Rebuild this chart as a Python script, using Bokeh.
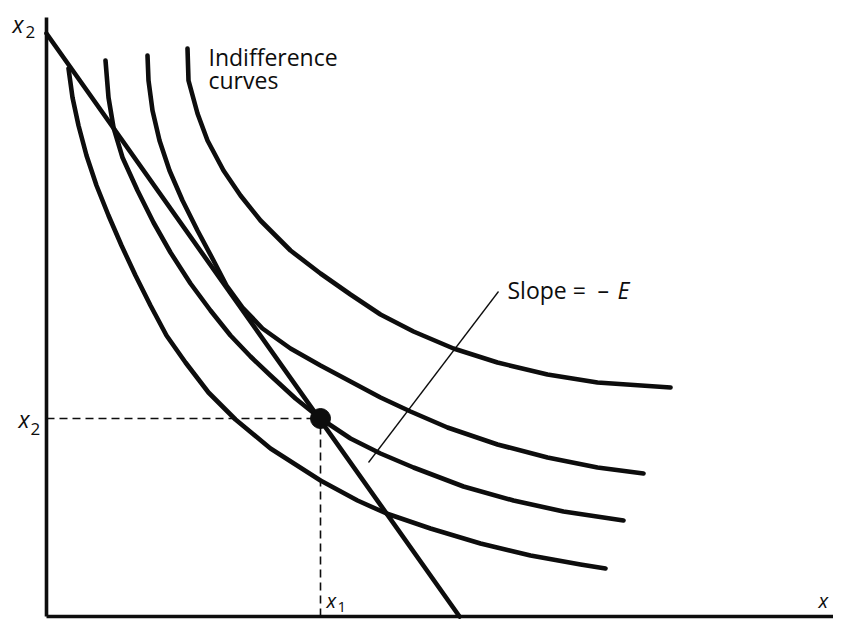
from bokeh.plotting import figure
from bokeh.models import Range1d
from bokeh.core.properties import value
from bokeh.embed import file_html
from bokeh.resources import INLINE

# ---- data (quantity units, origin at the axes' corner) ----
curve1_x = [22, 26, 32, 40, 50, 62, 75, 89, 104, 120, 139, 162, 189, 224, 274, 311, 340, 384, 434, 484, 534, 559]
curve1_y = [548, 519, 491, 461, 431, 401, 371, 341, 311, 281, 254, 224, 197, 168, 136, 116, 103, 88, 73, 61, 52, 48]

curve2_x = [59, 62, 67, 76, 91, 107, 124, 144, 164, 184, 204, 224, 249, 274, 304, 334, 367, 417, 467, 517, 577]
curve2_y = [556, 519, 489, 459, 426, 394, 364, 333, 306, 281, 260, 241, 218, 198, 178, 163, 149, 130, 116, 105, 96]

curve3_x = [101, 102, 106, 113, 123, 136, 151, 167, 180, 196, 216, 244, 274, 304, 334, 364, 401, 451, 501, 551, 597]
curve3_y = [561, 536, 506, 476, 446, 416, 386, 356, 331, 309, 288, 268, 251, 235, 219, 205, 189, 172, 159, 149, 143]

curve4_x = [141, 142, 151, 161, 177, 194, 214, 244, 274, 304, 334, 367, 407, 451, 501, 551, 624]
curve4_y = [568, 536, 503, 476, 446, 421, 396, 366, 343, 322, 302, 285, 268, 254, 242, 234, 229]

budget_x = [0, 413]
budget_y = [583, 0]

x1_star = 274
x2_star = 198

axis_x_end = 803
axis_y_end = 599

pointer_x = [322, 452]
pointer_y = [154, 325]

label_curves = ["Indifference", "curves"]

# ---- figure ----
p = figure(width=833, height=628,
           x_range=Range1d(-46, 787), y_range=Range1d(-12, 616),
           output_backend="svg", toolbar_location=None,
           x_axis_location=None, y_axis_location=None,
           min_border=0)
p.grid.visible = False
p.outline_line_color = None
p.background_fill_color = "white"
p.border_fill_color = "white"

INK = "#0d0d0d"
FONT = value("Open Sans")

# axes
p.line([0, 0], [0, axis_y_end], line_width=3.6, color=INK)
p.line([0, axis_x_end], [0, 0], line_width=3.6, color=INK)

# dashed guides
p.line([0, x1_star], [x2_star, x2_star], line_width=1.6, color=INK, line_dash="8 5")
p.line([x1_star, x1_star], [0, x2_star], line_width=1.6, color=INK, line_dash="8 5")

# indifference curves
for cx, cy in [(curve1_x, curve1_y), (curve2_x, curve2_y),
               (curve3_x, curve3_y), (curve4_x, curve4_y)]:
    p.line(cx, cy, line_width=4.6, color=INK, line_cap="round", line_join="round")

# budget line
p.line(budget_x, budget_y, line_width=4.6, color=INK, line_cap="round")

# slope pointer
p.line(pointer_x, pointer_y, line_width=1.3, color=INK)

# chosen point
p.scatter([x1_star], [x2_star], size=20, color=INK)


def label(x, y, s, size="23px", style="normal", baseline="alphabetic"):
    p.text(x=[x], y=[y], text=[s], text_font=FONT, text_font_style=style,
           text_font_size=size, text_baseline=baseline, text_align="left",
           text_color=INK)


# curve label
label(162, 560, label_curves[0])
label(162, 537, label_curves[1])

# slope label
label(461, 327, "Slope =")
label(551, 327, "\u2013")
label(571, 327, "E", style="italic")

# axis names / tick labels
label(-34, 593, "x", style="italic")
label(-21, 585, "2", size="17px")

label(-28, x2_star, "x", style="italic")
label(-16, x2_star - 10, "2", size="17px")

# bottom labels, kept just above the x axis so they stay inside the picture
label(x1_star + 6, 16, "x", size="20px", style="italic")
label(x1_star + 17, 10, "1", size="15px")

label(772, 16, "x", size="20px", style="italic")

open("out.html", "w").write(file_html(p, INLINE))
